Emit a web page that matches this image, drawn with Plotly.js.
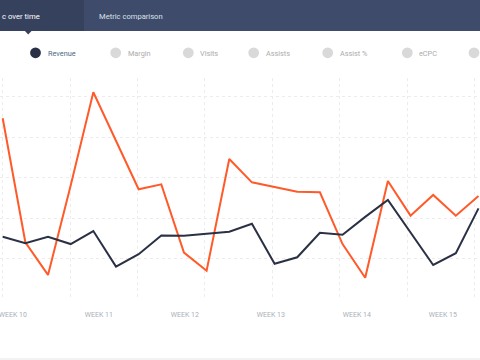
<!DOCTYPE html>
<html>
<head>
<meta charset="utf-8">
<script src="https://cdn.plot.ly/plotly-3.0.1.min.js"></script>
<style>
  html, body { margin: 0; padding: 0; background: #ffffff; }
  #chart { width: 480px; height: 360px; }
</style>
</head>
<body>
<div id="chart"></div>
<script>
// ---- data ----
const weekLabels = ["WEEK 10", "WEEK 11", "WEEK 12", "WEEK 13", "WEEK 14", "WEEK 15"];
const revenue = [30.9, 27.7, 30.9, 27.3, 33.7, 16.2, 22.3, 31.5, 31.4, 32.4, 33.4,
                 37.3, 17.6, 20.8, 32.9, 31.9, 40.7, 49.0, 33.0, 17.0, 22.8, 44.9];
const comparison = [89.3, 28.2, 12.1, 56.2, 102.1, 78.2, 54.3, 56.7, 23.1, 14.2, 69.2,
                    57.7, 55.4, 53.1, 52.8, 27.3, 10.7, 58.4, 41.3, 51.5, 41.3, 51.0];
const legendItems = ["Revenue", "Margin", "Visits", "Assists", "Assist %", "eCPC", ""];
const tabLabels = ["c over time", "Metric comparison"];

const days = revenue.map((_, i) => i);

// ---- layout helpers (pixel -> paper) ----
const W = 480, H = 360, T = 78, B = 60;
const PH = H - T - B;
const px = v => v / W;
const py = v => (H - B - v) / PH;

const legendX = [35.5, 115.7, 188.3, 253.7, 327.7, 407.3, 474];
const legendTextX = [46, 126, 198.3, 264, 337.7, 417.3, 0];

const shapes = [
  {type: 'rect', xref: 'paper', yref: 'paper', x0: px(0), x1: px(480), y0: py(31), y1: py(0),
   fillcolor: '#3e4b6a', line: {width: 0}, layer: 'above'},
  {type: 'rect', xref: 'paper', yref: 'paper', x0: px(0), x1: px(84), y0: py(31), y1: py(0),
   fillcolor: '#36415d', line: {width: 0}, layer: 'above'},
  {type: 'path', xref: 'paper', yref: 'paper', layer: 'above',
   path: `M ${px(24.5)} ${py(30.5)} L ${px(32)} ${py(30.5)} L ${px(28.2)} ${py(34.5)} Z`,
   fillcolor: '#36415d', line: {width: 0}},
  {type: 'line', xref: 'paper', yref: 'paper', x0: 0, x1: 1, y0: py(359), y1: py(359),
   line: {color: '#e6e6e6', width: 1}}
];

legendX.forEach((cx, i) => {
  shapes.push({type: 'circle', xref: 'paper', yref: 'paper', layer: 'above',
    x0: px(cx - 5.4), x1: px(cx + 5.4), y0: py(52.8 + 5.4), y1: py(52.8 - 5.4),
    fillcolor: i === 0 ? '#2a3146' : '#d9d9d9', line: {width: 0}});
});

const annotations = [
  {xref: 'paper', yref: 'paper', x: px(-0.5), y: py(17), xanchor: 'left', yanchor: 'middle',
   text: tabLabels[0], showarrow: false, font: {family: 'Roboto', size: 7.7, color: '#ffffff'}},
  {xref: 'paper', yref: 'paper', x: px(96.5), y: py(17), xanchor: 'left', yanchor: 'middle',
   text: tabLabels[1], showarrow: false, font: {family: 'Roboto', size: 7.6, color: '#dde1ea'}}
];
legendItems.forEach((t, i) => {
  if (!t) return;
  annotations.push({xref: 'paper', yref: 'paper', x: px(legendTextX[i]), y: py(53.5),
    xanchor: 'left', yanchor: 'middle', text: t, showarrow: false,
    font: {family: 'Roboto', size: 7.3, color: i === 0 ? '#4d6a86' : '#ababab'}});
});

const xPerUnit = (478.5 - 2.7) / 21;
const xRange = [-2.7 / xPerUnit, 21 + (W - 478.5) / xPerUnit];
const weekPos = weekLabels.map((_, k) => (12.8 - 2.7 + 86 * k) / xPerUnit);

const traces = [
  {x: days, y: comparison, type: 'scatter', mode: 'lines', name: 'Comparison',
   line: {color: '#ff5a2a', width: 2}, hoverinfo: 'skip'},
  {x: days, y: revenue, type: 'scatter', mode: 'lines', name: 'Revenue',
   line: {color: '#2b3145', width: 2}, hoverinfo: 'skip'}
];

const layout = {
  width: W, height: H,
  margin: {l: 0, r: 0, t: T, b: B, pad: 0},
  paper_bgcolor: '#ffffff', plot_bgcolor: '#ffffff',
  showlegend: false,
  font: {family: 'Roboto'},
  xaxis: {
    range: xRange, showgrid: false, zeroline: false, showline: false,
    tickmode: 'array', tickvals: weekPos, ticktext: weekLabels, ticks: '',
    tickfont: {family: 'Roboto', size: 7, color: '#a9b0ba'},
    ticklabelstandoff: 9, ticklabeloverflow: 'allow',
    minor: {tickmode: 'linear', tick0: 0, dtick: 67.43 / xPerUnit, showgrid: true,
            gridcolor: '#ececec', griddash: 'dot', gridwidth: 1, ticks: ''}
  },
  yaxis: {
    range: [-0.25, 109.1], showticklabels: false, zeroline: false, showline: false,
    tickmode: 'array', tickvals: [20, 40, 60, 80, 100], ticks: '',
    showgrid: true, gridcolor: '#ececec', griddash: 'dot', gridwidth: 1
  },
  shapes: shapes,
  annotations: annotations
};

Plotly.newPlot('chart', traces, layout, {displayModeBar: false, staticPlot: true});
</script>
</body>
</html>
